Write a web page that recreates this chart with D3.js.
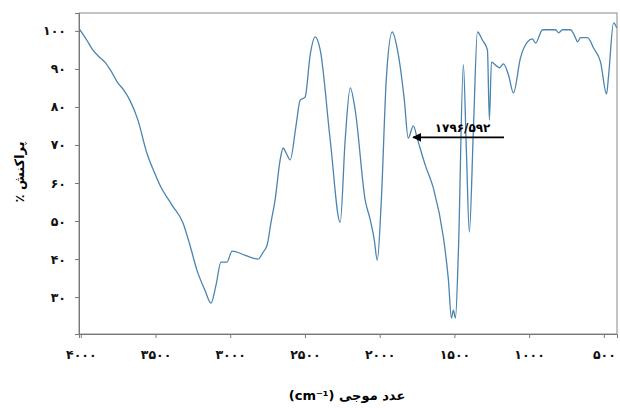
<!DOCTYPE html>
<html>
<head>
<meta charset="utf-8">
<script src="https://cdn.jsdelivr.net/npm/d3@7"></script>
<style>
  body { margin: 0; background: #fff; }
  svg { display: block; font-family: "DejaVu Sans", sans-serif; }
</style>
</head>
<body>
<svg width="620" height="408"></svg>
<script>
// IR spectrum
var wavenumbers = [4008, 3960, 3920, 3873, 3839, 3800, 3752, 3710, 3672, 3618, 3558, 3510, 3471, 3390, 3316,
  3270, 3223, 3169, 3129, 3095, 3062, 3022, 2988, 2900, 2814, 2780, 2753, 2727, 2700, 2666, 2646,
  2626, 2599, 2559, 2532, 2499, 2465, 2432, 2398, 2331, 2264, 2231, 2197, 2164, 2097, 2063, 2036,
  2016, 1989, 1956, 1916, 1875, 1835, 1809, 1775, 1748, 1695, 1641, 1574, 1540, 1520, 1507, 1493,
  1473, 1440, 1420, 1400, 1373, 1346, 1313, 1279, 1266, 1252, 1219, 1199, 1172, 1138, 1105, 1058,
  1011, 978, 957, 910, 823, 803, 776, 723, 690, 676, 656, 609, 569, 522, 482, 468, 435, 414];
var transmittance = [100.4, 97.6, 95.0, 93.0, 91.8, 89.6, 86.3, 84.3, 81.8, 76.6, 67.9, 63.0, 59.5, 54.2, 49.5,
  43.7, 37.1, 31.8, 28.4, 33.2, 39.2, 39.2, 42.1, 41.0, 40.0, 41.8, 43.7, 49.7, 55.5, 66.1, 69.2,
  67.9, 66.1, 75.3, 81.8, 82.6, 93.7, 98.4, 95.0, 71.3, 49.7, 71.3, 85.0, 79.2, 55.5, 50.3, 45.0,
  39.7, 55.5, 87.1, 99.7, 93.7, 81.8, 71.8, 75.0, 71.6, 64.7, 58.7, 45.8, 34.5, 24.5, 26.6, 24.5,
  42.4, 91.1, 68.7, 47.1, 73.9, 99.7, 97.6, 95.0, 76.6, 91.8, 90.8, 90.3, 91.3, 88.4, 83.7, 92.9,
  97.1, 97.9, 96.8, 100.3, 100.3, 99.5, 100.3, 100.3, 98.2, 97.1, 98.2, 98.2, 95.5, 91.8, 83.4, 88.4, 102.1, 100.8];

var xTicks = [4000, 3500, 3000, 2500, 2000, 1500, 1000, 500];
var yTicks = [30, 40, 50, 60, 70, 80, 90, 100];

var peakLabel = "۱۷۹۶/۵۹۲";
var peakTip = [1776, 72];   // wavenumber, %T at arrow head
var peakTail = 1168;        // wavenumber at arrow tail

var xTitle = "(cm⁻¹) عدد موجی";
var yTitle = "پراکنش ٪";

function fa(n) {
  return String(n).replace(/\d/g, function (c) { return "۰۱۲۳۴۵۶۷۸۹"[+c]; });
}

var svg = d3.select("svg");
var plotLeft = 79, plotRight = 617, plotTop = 13, plotBottom = 334;

var x = d3.scaleLinear().domain([4012, 412]).range([plotLeft, plotRight]);
var y = d3.scaleLinear().domain([20.3, 104.7]).range([plotBottom, plotTop]);

var data = wavenumbers.map(function (w, i) { return [w, transmittance[i]]; });

// frame
svg.append("rect")
  .attr("x", plotLeft).attr("y", plotTop)
  .attr("width", plotRight - plotLeft).attr("height", plotBottom - plotTop)
  .attr("fill", "none")
  .attr("stroke", "#8a8a8a")
  .attr("stroke-width", 1);

var xAxis = svg.append("g")
  .attr("transform", "translate(0," + plotBottom + ")")
  .call(d3.axisBottom(x).tickValues(xTicks).tickSize(4).tickPadding(12).tickFormat(fa));

var yAxis = svg.append("g")
  .attr("transform", "translate(" + plotLeft + ",0)")
  .call(d3.axisLeft(y).tickValues(yTicks).tickSize(4).tickPadding(9).tickFormat(fa));

[xAxis, yAxis].forEach(function (a) {
  a.select(".domain").attr("stroke", "#777");
  a.selectAll(".tick line").attr("stroke", "#777");
  a.selectAll(".tick text")
    .attr("fill", "#111")
    .style("font-size", "12.5px")
    .style("font-weight", "bold")
    .style("font-family", "DejaVu Sans");
});

// spectrum
var line = d3.line()
  .x(function (d) { return x(d[0]); })
  .y(function (d) { return y(d[1]); })
  .curve(d3.curveMonotoneX);

svg.append("path")
  .datum(data)
  .attr("d", line)
  .attr("fill", "none")
  .attr("stroke", "#4a84b0")
  .attr("stroke-width", 1.3);

// annotation arrow
svg.append("defs").append("marker")
  .attr("id", "arrowhead")
  .attr("viewBox", "0 -5 10 10")
  .attr("refX", 9)
  .attr("refY", 0)
  .attr("orient", "auto")
  .attr("markerWidth", 5)
  .attr("markerHeight", 5)
  .append("path")
  .attr("d", "M 0,-5 L 10,0 L 0,5 Z")
  .attr("fill", "#000");

svg.append("line")
  .attr("x1", x(peakTail)).attr("y1", y(peakTip[1]))
  .attr("x2", x(peakTip[0])).attr("y2", y(peakTip[1]))
  .attr("stroke", "#000")
  .attr("stroke-width", 1.8)
  .attr("marker-end", "url(#arrowhead)");

svg.append("text")
  .attr("x", (x(peakTail) + x(peakTip[0])) / 2 + 4)
  .attr("y", y(peakTip[1]) - 5)
  .attr("text-anchor", "middle")
  .style("font-size", "12px")
  .style("font-weight", "bold")
  .text(peakLabel);

// titles
svg.append("text")
  .attr("x", 347)
  .attr("y", 400)
  .attr("text-anchor", "middle")
  .style("font-size", "13px")
  .style("font-weight", "bold")
  .text(xTitle);

svg.append("text")
  .attr("transform", "translate(24,172) rotate(-90)")
  .attr("text-anchor", "middle")
  .attr("direction", "rtl")
  .style("font-size", "13px")
  .style("font-weight", "bold")
  .text(yTitle);
</script>
</body>
</html>
